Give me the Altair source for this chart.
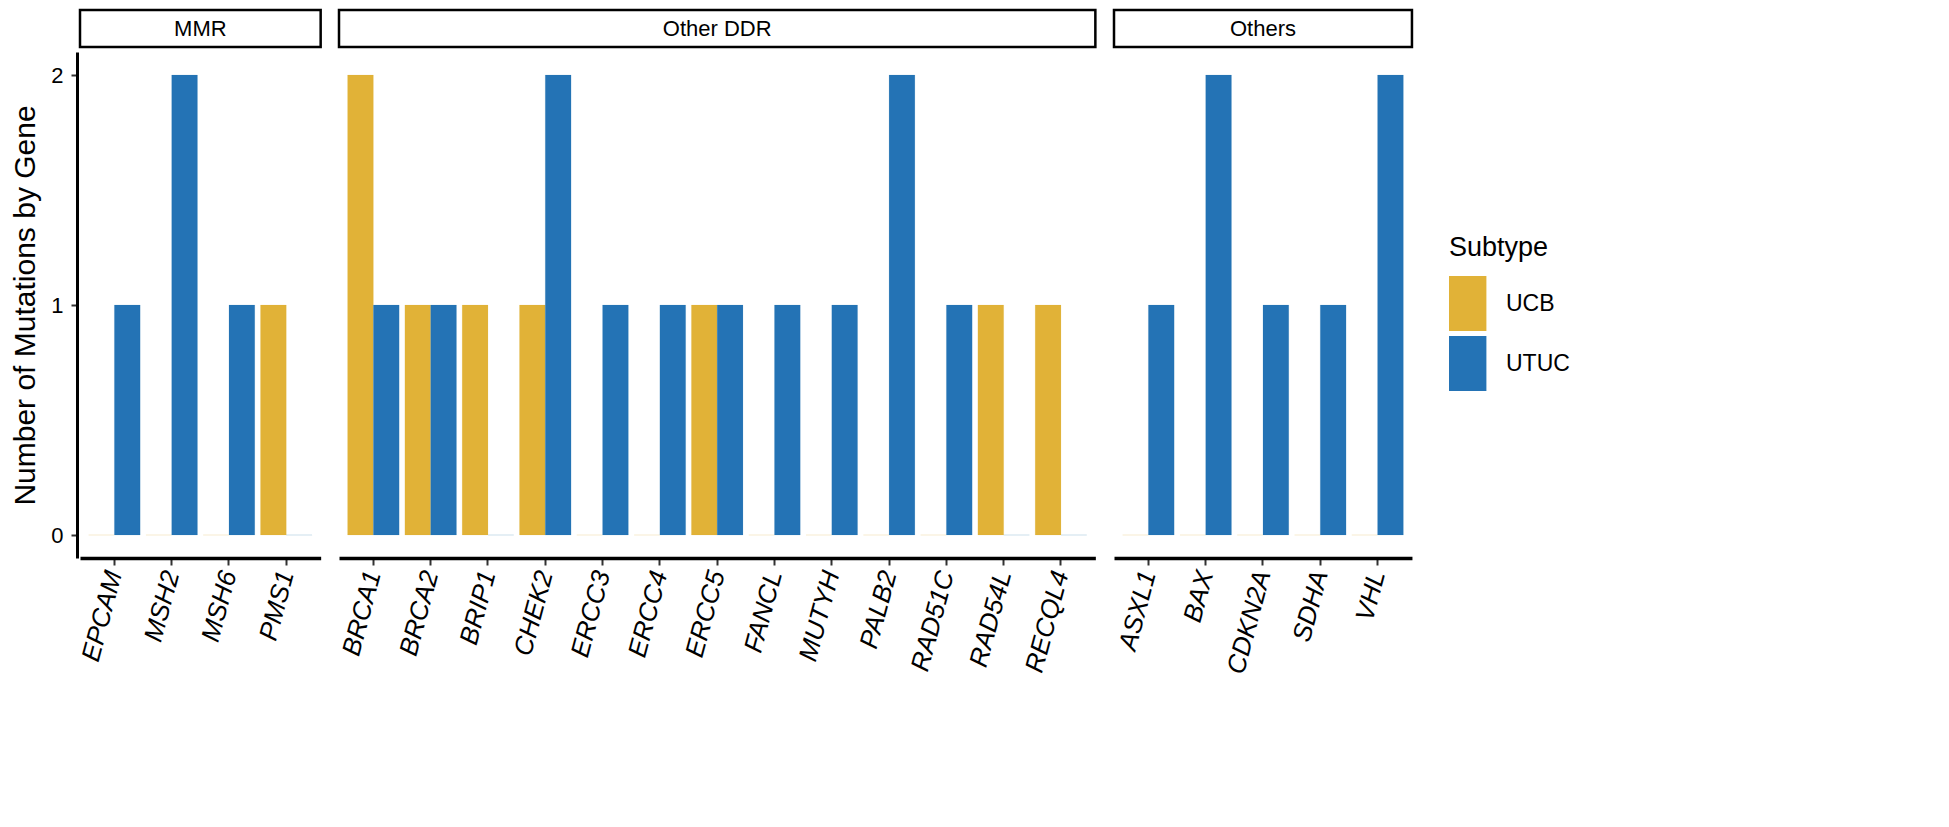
import altair as alt
import pandas as pd

groups = ["MMR"] * 4 + ["Other DDR"] * 13 + ["Others"] * 5
genes = ["EPCAM", "MSH2", "MSH6", "PMS1",
         "BRCA1", "BRCA2", "BRIP1", "CHEK2", "ERCC3", "ERCC4", "ERCC5", "FANCL",
         "MUTYH", "PALB2", "RAD51C", "RAD54L", "RECQL4",
         "ASXL1", "BAX", "CDKN2A", "SDHA", "VHL"]
ucb = [0, 0, 0, 1,
       2, 1, 1, 1, 0, 0, 1, 0, 0, 0, 0, 1, 1,
       0, 0, 0, 0, 0]
utuc = [1, 2, 1, 0,
        1, 1, 0, 2, 1, 1, 1, 1, 1, 2, 1, 0, 0,
        1, 2, 1, 1, 2]
subtypes = ["UCB", "UTUC"]
colors = ["#E1B237", "#2473B5"]
# gene under the middle of each strip label
strip_anchor_odd = ["ERCC5", "CDKN2A"]
strip_anchor_even = ["MSH2"]

STEP = 57.3
PAD_INNER = 0.1

rows = []
for g, gene, a, b in zip(groups, genes, ucb, utuc):
    rows.append({"Group": g, "Gene": gene, "Subtype": "UCB", "Count": a})
    rows.append({"Group": g, "Gene": gene, "Subtype": "UTUC", "Count": b})
df = pd.DataFrame(rows)

FONT = "Liberation Sans"

bars = alt.Chart().mark_bar(strokeWidth=0.8, strokeOpacity=0.15).encode(
    x=alt.X("Gene:N", title=None,
            scale=alt.Scale(paddingInner=PAD_INNER, paddingOuter=0.15),
            axis=alt.Axis(labelAngle=-75, labelFontStyle="italic", labelFontSize=26,
                          labelColor="black", labelAlign="right", labelBaseline="middle",
                          labelPadding=6, domainColor="black", domainWidth=3.5,
                          tickColor="#333333", tickWidth=2, tickSize=7, grid=False)),
    xOffset=alt.XOffset("Subtype:N", scale=alt.Scale(domain=subtypes, paddingInner=0, paddingOuter=0,
                                                     range=[0, STEP * (1 - PAD_INNER)])),
    y=alt.Y("Count:Q", title="Number of Mutations by Gene",
            scale=alt.Scale(domain=[-0.1, 2.1], nice=False, zero=False),
            axis=alt.Axis(values=[0, 1, 2], format="d", labelFontSize=22, labelColor="black",
                          labelPadding=8, titleFontSize=30, titleFontWeight="normal",
                          titleColor="black", titlePadding=10, domainColor="black",
                          domainWidth=3, tickColor="#333333", tickWidth=2, tickSize=6,
                          grid=False)),
    y2=alt.datum(0),
    color=alt.Color("Subtype:N", scale=alt.Scale(domain=subtypes, range=colors),
                    legend=alt.Legend(title="Subtype", orient="none", legendX=1369, legendY=183,
                                      titleFontSize=27, titleFontWeight="normal",
                                      titleColor="black", labelFontSize=23,
                                      labelColor="black", titlePadding=14,
                                      symbolType="M-1,-1L0.36,-1L0.36,1L-1,1Z",
                                      symbolSize=3025, symbolStrokeWidth=0,
                                      symbolOpacity=1, rowPadding=5, labelOffset=2)),
    stroke=alt.Stroke("Subtype:N", scale=alt.Scale(domain=subtypes, range=colors), legend=None),
)

strip_rect = alt.Chart().transform_filter(
    alt.datum.Subtype == "UCB"
).transform_filter(
    alt.FieldOneOfPredicate(field="Gene", oneOf=strip_anchor_odd + strip_anchor_even)
).mark_rect(fill="white", stroke="black", strokeWidth=2.5).encode(
    x=alt.value(0),
    x2=alt.value("width"),
    y=alt.value(-42),
    y2=alt.value(-5),
)

strip_text_odd = alt.Chart().transform_filter(
    alt.datum.Subtype == "UCB"
).transform_filter(
    alt.FieldOneOfPredicate(field="Gene", oneOf=strip_anchor_odd)
).mark_text(fontSize=22, color="black", align="center", baseline="middle").encode(
    x=alt.X("Gene:N"),
    y=alt.value(-23),
    text="Group:N",
)

strip_text_even = alt.Chart().transform_filter(
    alt.datum.Subtype == "UCB"
).transform_filter(
    alt.FieldOneOfPredicate(field="Gene", oneOf=strip_anchor_even)
).mark_text(fontSize=22, color="black", align="center", baseline="middle", dx=STEP / 2).encode(
    x=alt.X("Gene:N"),
    y=alt.value(-23),
    text="Group:N",
)

layered = alt.layer(bars, strip_rect, strip_text_odd, strip_text_even).properties(
    width=alt.Step(STEP, **{"for": "position"}), height=506
)

chart = layered.facet(
    data=df,
    column=alt.Column("Group:N", header=alt.Header(labels=False, title=None)),
    spacing=15,
).resolve_scale(x="independent").properties(
    padding={"left": 2, "top": 0, "right": 5, "bottom": 5}
).configure(font=FONT, view=alt.ViewConfig(stroke=None))

chart.save("out.html", embed_options={"renderer": "svg", "actions": False})
